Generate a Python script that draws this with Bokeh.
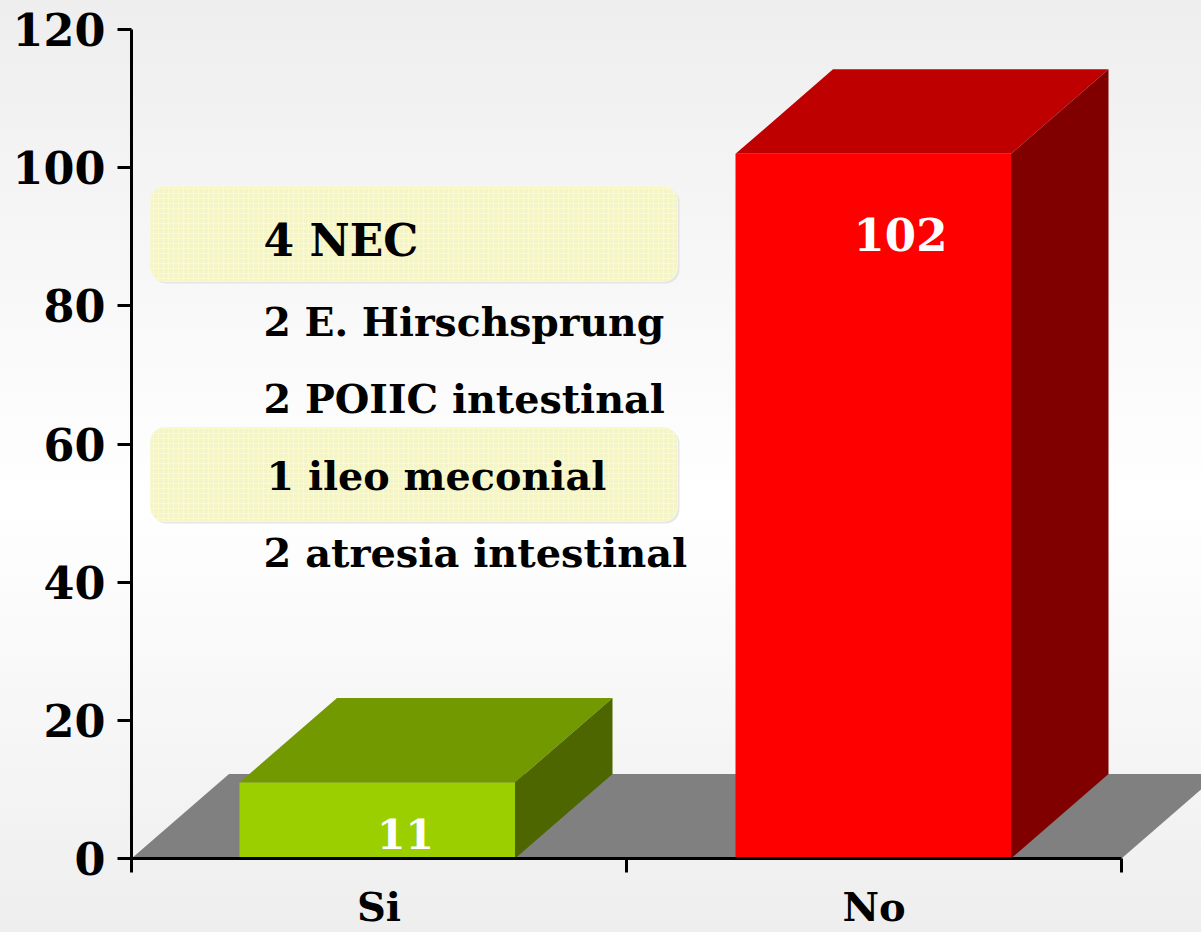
from bokeh.plotting import figure
from bokeh.models import Range1d, LinearAxis, FixedTicker, GlobalInlineStyleSheet
from bokeh.core.properties import value
from bokeh.embed import file_html
from bokeh.resources import INLINE

categories = ["Si", "No"]
counts = [11, 102]
y_ticks = [0, 20, 40, 60, 80, 100, 120]
detail_lines = ["4 NEC", "2 E. Hirschsprung", "2 POIIC intestinal", "1 ileo meconial", "2 atresia intestinal"]

front_colors = ["#9bcf00", "#ff0000"]
top_colors = ["#729900", "#bf0000"]
side_colors = ["#4d6600", "#800000"]

# layout in page pixels
W, H = 1201, 932
AX_L, AX_R, AX_T, AX_B = 131, 1121, 29, 858
px_x = (AX_R - AX_L) / 2
px_y = (AX_B - AX_T) / 120
dx = 97.5 / px_x
dy = 84.5 / px_y


def X(px):
    return (px - AX_L) / px_x


def Y(py):
    return (AX_B - py) / px_y


p = figure(
    width=W, height=H, output_backend="svg", toolbar_location=None,
    x_range=Range1d(X(0), X(W)), y_range=Range1d(Y(H), Y(0)),
    x_axis_type=None, y_axis_type=None, min_border=0, outline_line_color=None,
    background_fill_alpha=0, border_fill_alpha=0,
)
p.grid.visible = False
p.stylesheets = [GlobalInlineStyleSheet(css="html{min-height:100%;background:linear-gradient(#eeeeee 0,#ffffff 54%,#eeeeee 100%)}body{background:transparent}")]

# floor
p.patch([0, dx, 2 + dx, 2], [0, dy, dy, 0], color="#808080", line_width=0)

# bars
bar_left = [X(239), X(735)]
bar_w = 275.5 / px_x
for left, v, cf, ct, cs in zip(bar_left, counts, front_colors, top_colors, side_colors):
    r = left + bar_w
    p.patch([left, left + dx, r + dx, r], [v, v + dy, v + dy, v], color=ct, line_width=0)
    p.patch([r, r + dx, r + dx, r], [0, dy, v + dy, v], color=cs, line_width=0)
    p.quad(left=left, right=r, bottom=0, top=v, color=cf, line_width=0)

# highlighted panels
panel_tops = [186, 427]
panel_bottoms = [281, 521]
for t, b in zip(panel_tops, panel_bottoms):
    p.quad(left=X(152), right=X(679), top=Y(t + 2), bottom=Y(b + 2), fill_color="#dddddd",
           fill_alpha=0.7, line_width=0, border_radius=14)
    p.quad(left=X(150), right=X(677), top=Y(t), bottom=Y(b), fill_color="#f4f4cc",
           line_color="#f8f8d4", line_width=1, border_radius=14,
           hatch_pattern="cross", hatch_color="#fbfbc8", hatch_scale=5, hatch_weight=1)

# detail text
detail_x = [263, 263, 263, 266, 263]
detail_y = [240, 321, 398, 475, 552]
detail_size = [44, 39.3, 39.7, 39.7, 39.9]
for s, tx, ty, fs in zip(detail_lines, detail_x, detail_y, detail_size):
    p.text([X(tx)], [Y(ty)], text=[s], text_font=value("DejaVu Serif"), text_font_style="bold",
           text_font_size=f"{fs}px", text_color="#000000", text_align="left", text_baseline="middle")

# value labels
label_x = [405, 900]
label_y = [833, 234]
label_size = [41, 45]
for v, tx, ty, fs in zip(counts, label_x, label_y, label_size):
    p.text([X(tx)], [Y(ty)], text=[str(v)], text_font=value("DejaVu Serif"), text_font_style="bold",
           text_font_size=f"{fs}px", text_color="#ffffff", text_align="center", text_baseline="middle")

# axes
yax = LinearAxis(fixed_location=0, bounds=(0, 120), ticker=FixedTicker(ticks=y_ticks))
yax.major_tick_out = 14
yax.major_tick_in = 0
yax.major_tick_line_width = 3
yax.axis_line_width = 3
yax.major_label_standoff = 12
yax.major_label_text_font = "DejaVu Serif"
yax.major_label_text_font_style = "bold"
yax.major_label_text_font_size = "44.5px"
yax.major_label_text_color = "#000000"
p.add_layout(yax, "left")

xax = LinearAxis(fixed_location=0, bounds=(0, 2),
                 ticker=FixedTicker(ticks=[0.5, 1.5], minor_ticks=[0, 1, 2]))
xax.major_label_overrides = {0.5: categories[0], 1.5: categories[1]}
xax.major_tick_line_color = None
xax.major_tick_out = 0
xax.major_tick_in = 0
xax.minor_tick_out = 14
xax.minor_tick_in = 0
xax.minor_tick_line_width = 3
xax.axis_line_width = 3
xax.major_label_standoff = 10
xax.major_label_text_font = "DejaVu Serif"
xax.major_label_text_font_style = "bold"
xax.major_label_text_font_size = "40px"
xax.major_label_text_color = "#000000"
p.add_layout(xax, "below")

open("out.html", "w").write(file_html(p, INLINE))
